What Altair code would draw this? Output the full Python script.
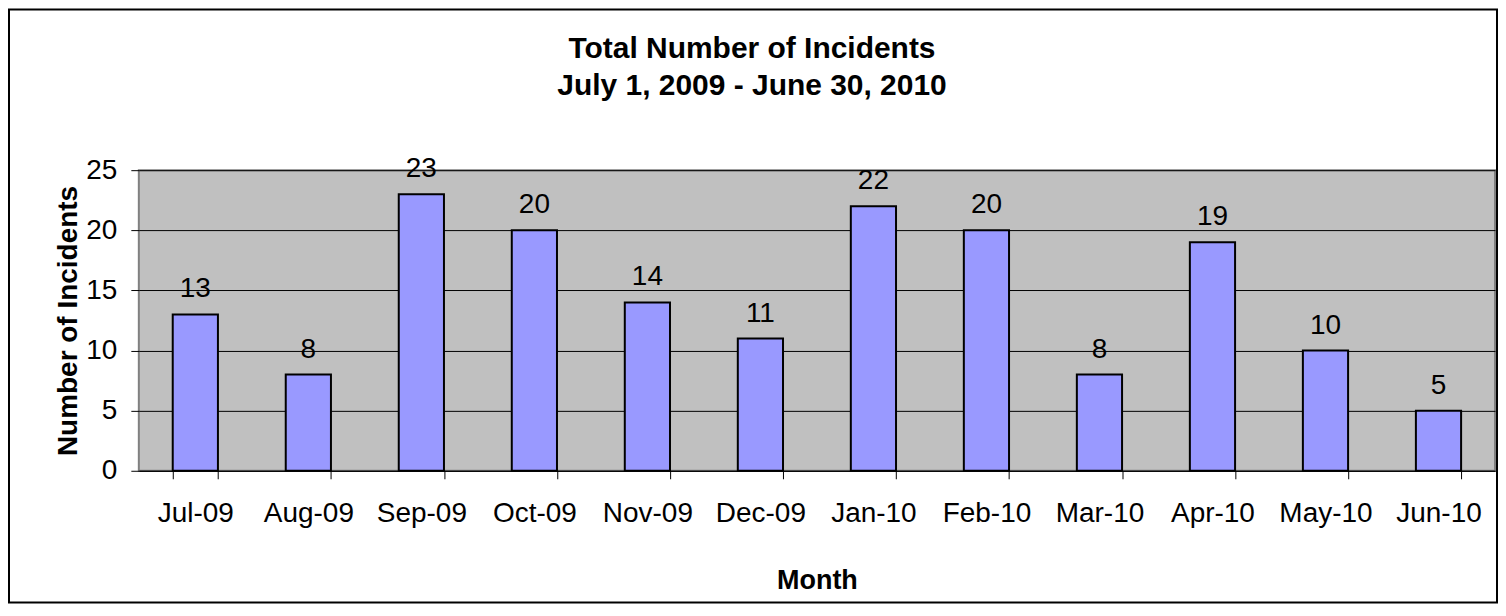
import altair as alt
import pandas as pd

months = ["Jul-09", "Aug-09", "Sep-09", "Oct-09", "Nov-09", "Dec-09",
          "Jan-10", "Feb-10", "Mar-10", "Apr-10", "May-10", "Jun-10"]
incidents = [13, 8, 23, 20, 14, 11, 22, 20, 8, 19, 10, 5]
y_ticks = [0, 5, 10, 15, 20, 25]
title_lines = ["Total Number of Incidents", "July 1, 2009 - June 30, 2010"]

df = pd.DataFrame({"Month": months, "Incidents": incidents})

FONT = "Liberation Sans"
PW, PH = 1358, 301
PAD_L, PAD_T, PAD_R, PAD_B = 131, 162, 3, 133

x = alt.X("Month:N", sort=months,
          scale=alt.Scale(paddingInner=0.6, paddingOuter=0.3),
          axis=alt.Axis(title="Month", labelAngle=0, labelFontSize=28, labelFont=FONT,
                        labelColor="black", labelPadding=35, labelBaseline="middle",
                        tickBand="extent", tickSize=8, tickColor="black", ticks=True,
                        tickWidth=1, domainColor="black", domainWidth=1,
                        titleFont=FONT, titleFontSize=27, titleFontWeight="bold",
                        titleColor="black", titleX=PW / 2, titleY=110,
                        titleBaseline="middle", titleAlign="center", grid=False))
y = alt.Y("Incidents:Q",
          scale=alt.Scale(domain=[0, 25], nice=False),
          axis=alt.Axis(title="Number of Incidents", values=y_ticks, labelFontSize=28,
                        labelFont=FONT, labelColor="black", labelPadding=14,
                        tickSize=8, tickColor="black", domain=False,
                        grid=True, gridColor="black", gridWidth=1,
                        titleFont=FONT, titleFontSize=28, titleFontWeight="bold",
                        titleColor="black", titleAngle=270, titleX=-70, titleY=PH / 2,
                        titleAlign="center", titleBaseline="middle"))

base = alt.Chart(df)
bars = base.mark_bar(color="#9999FF", stroke="black", strokeWidth=2).encode(x=x, y=y)
labels = base.mark_text(fontSize=28, font=FONT, color="black", baseline="alphabetic",
                        dy=-17).encode(x=alt.X("Month:N", sort=months), y="Incidents:Q",
                                        text="Incidents:Q")

one = alt.Data(values=[{"a": 1}])
title1 = alt.Chart(one).mark_text(
    text=title_lines[0], font=FONT, fontSize=30, fontWeight="bold", color="black",
    align="center", baseline="alphabetic"
).encode(x=alt.value(614), y=alt.value(-112))
title2 = alt.Chart(one).mark_text(
    text=title_lines[1], font=FONT, fontSize=30, fontWeight="bold", color="black",
    align="center", baseline="alphabetic"
).encode(x=alt.value(614), y=alt.value(-75))

frame = alt.Chart(one).mark_rect(
    fillOpacity=0, stroke="black", strokeWidth=2
).encode(x=alt.value(-130), x2=alt.value(PW + PAD_R - 1),
         y=alt.value(-PAD_T + 1), y2=alt.value(PH + PAD_B - 1))

chart = alt.layer(bars, labels, title1, title2, frame).properties(
    width=PW, height=PH,
    autosize=alt.AutoSizeParams(type="none"),
    padding={"left": PAD_L, "top": PAD_T, "right": PAD_R, "bottom": PAD_B},
    background="white",
).configure_view(fill="#C0C0C0", stroke="#808080", strokeWidth=2)

chart.save("out.html", embed_options={"renderer": "svg", "actions": False})
